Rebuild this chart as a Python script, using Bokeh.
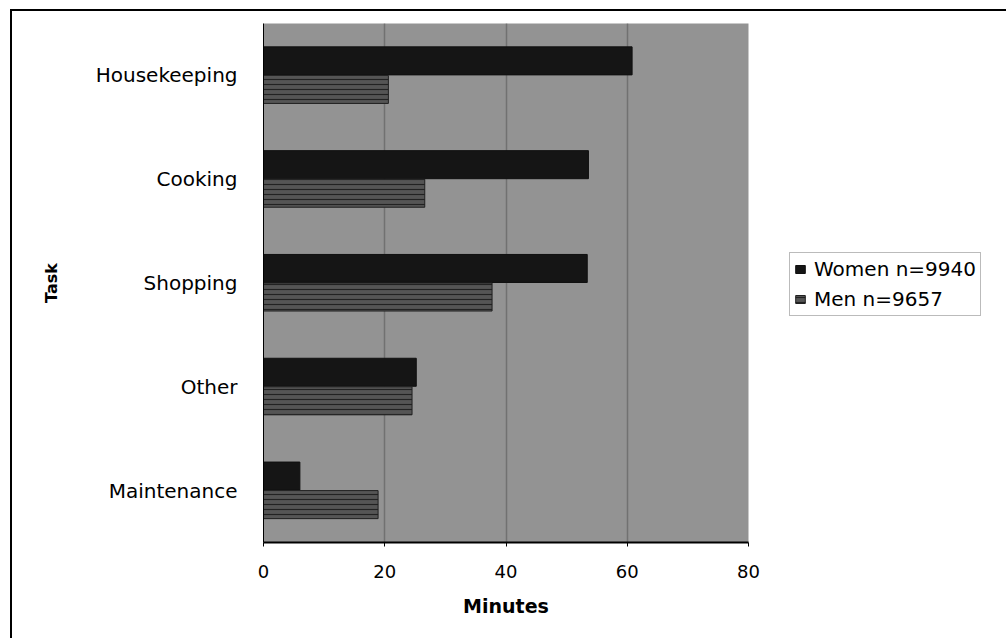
from bokeh.plotting import figure
from bokeh.models import ColumnDataSource, FactorRange, Range1d, Legend, LegendItem, FixedTicker
from bokeh.transform import dodge
from bokeh.embed import file_html
from bokeh.resources import INLINE

tasks = ["Maintenance", "Other", "Shopping", "Cooking", "Housekeeping"]
women = [6.0, 25.2, 53.4, 53.6, 60.8]
men = [18.9, 24.5, 37.7, 26.6, 20.6]
x_ticks = [0, 20, 40, 60, 80]
women_label = "Women n=9940"
men_label = "Men n=9657"

FONT = "DejaVu Sans"

src = ColumnDataSource(dict(task=tasks, women=women, men=men))

p = figure(frame_width=485, frame_height=519, y_range=FactorRange(factors=tasks, range_padding=0),
           x_range=Range1d(0, 80), output_backend="svg", toolbar_location=None,
           min_border_left=251, min_border_right=258, min_border_top=12, min_border_bottom=96)
p.margin = (9, 0, 0, 10)
p.styles = {"border-left": "2px solid black", "border-top": "2px solid black"}

p.background_fill_color = "#939393"
p.border_fill_color = "white"
p.outline_line_color = None

rw = p.hbar(y=dodge("task", 0.14, range=p.y_range), right="women", left=0, height=0.27, source=src,
            fill_color="#151515", line_color="#101010", line_width=1)
rm = p.hbar(y=dodge("task", -0.135, range=p.y_range), right="men", left=0, height=0.27, source=src,
            fill_color="#555555", line_color="#202020", line_width=1,
            hatch_pattern="-", hatch_color="#222222", hatch_scale=5, hatch_weight=1.2)

p.xgrid.grid_line_color = "#505050"
p.xgrid.grid_line_dash = "1 1"
p.xgrid.grid_line_width = 1.5
p.ygrid.grid_line_color = None

p.xaxis.ticker = FixedTicker(ticks=x_ticks)
p.xaxis.axis_line_color = "black"
p.xaxis.axis_line_width = 2
p.xaxis.major_tick_out = 4
p.xaxis.major_tick_in = 0
p.xaxis.minor_tick_line_color = None
p.xaxis.major_label_text_font = FONT
p.xaxis.major_label_text_font_size = "18px"
p.xaxis.major_label_text_color = "black"
p.xaxis.major_label_standoff = 18
p.xaxis.axis_label = "Minutes"
p.xaxis.axis_label_text_font = FONT
p.xaxis.axis_label_text_font_style = "bold"
p.xaxis.axis_label_text_font_size = "19px"
p.xaxis.axis_label_text_color = "black"
p.xaxis.axis_label_standoff = 14

p.yaxis.axis_line_color = "black"
p.yaxis.axis_line_width = 1
p.yaxis.major_tick_line_color = None
p.yaxis.major_label_text_font = FONT
p.yaxis.major_label_text_font_size = "20px"
p.yaxis.major_label_text_color = "black"
p.yaxis.major_label_standoff = 20
p.yaxis.axis_label = "Task"
p.yaxis.axis_label_text_font = FONT
p.yaxis.axis_label_text_font_style = "bold"
p.yaxis.axis_label_text_font_size = "16px"
p.yaxis.axis_label_text_color = "black"
p.yaxis.axis_label_standoff = 32

legend = Legend(items=[LegendItem(label=women_label, renderers=[rw]),
                       LegendItem(label=men_label, renderers=[rm])],
                location=(41, 226), orientation="vertical")
legend.label_text_font = FONT
legend.label_text_font_size = "20px"
legend.label_text_color = "black"
legend.glyph_width = 12
legend.glyph_height = 10
legend.label_height = 22
legend.spacing = 6
legend.padding = 4
legend.margin = 0
legend.label_standoff = 8
legend.border_line_color = "#777777"
legend.border_line_width = 1
legend.background_fill_color = "white"
legend.background_fill_alpha = 1
p.add_layout(legend, "right")

open("out.html", "w").write(file_html(p, INLINE))
